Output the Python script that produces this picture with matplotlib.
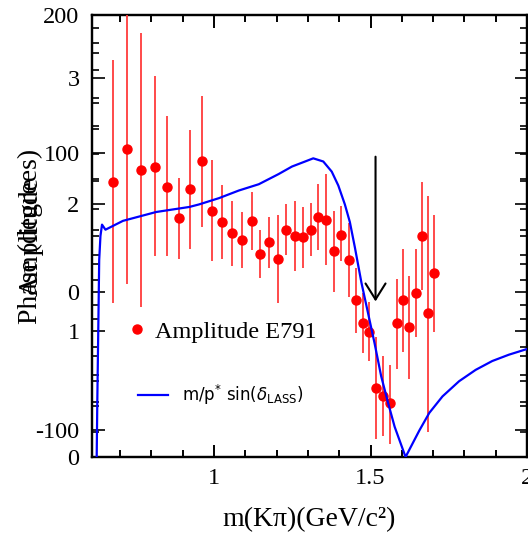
import matplotlib.pyplot as plt
from matplotlib.lines import Line2D
from matplotlib.ticker import MultipleLocator
import numpy as np

plt.rcParams['font.family'] = ['Liberation Serif', 'DejaVu Serif']
plt.rcParams['mathtext.fontset'] = 'dejavusans'
plt.rcParams['axes.unicode_minus'] = False

# --- Dados E791 (amplitude) ---
massa_e791 = [0.677, 0.723, 0.768, 0.810, 0.851, 0.888, 0.924, 0.961, 0.994, 1.026,
              1.058, 1.089, 1.120, 1.147, 1.177, 1.204, 1.231, 1.258, 1.284, 1.309,
              1.333, 1.359, 1.382, 1.405, 1.430, 1.453, 1.475, 1.495, 1.518, 1.540,
              1.562, 1.583, 1.604, 1.624, 1.644, 1.664, 1.684, 1.703]
amp_e791 = [2.18, 2.44, 2.27, 2.30, 2.14, 1.89, 2.12, 2.34, 1.95, 1.86,
            1.77, 1.72, 1.87, 1.61, 1.70, 1.57, 1.80, 1.75, 1.74, 1.80,
            1.90, 1.88, 1.63, 1.76, 1.56, 1.24, 1.06, 0.99, 0.55, 0.48,
            0.43, 1.06, 1.24, 1.03, 1.30, 1.75, 1.14, 1.46]
amp_alto = [3.14, 3.60, 3.36, 3.02, 2.70, 2.21, 2.59, 2.86, 2.35, 2.15,
            2.03, 1.94, 2.10, 1.80, 1.90, 1.92, 2.00, 2.03, 1.98, 2.01,
            2.16, 2.24, 1.95, 1.99, 1.85, 1.50, 1.30, 1.23, 0.95, 0.80,
            0.73, 1.41, 1.65, 1.43, 1.65, 2.18, 2.07, 1.92]
amp_baixo = [1.22, 1.37, 1.19, 1.59, 1.59, 1.57, 1.65, 1.82, 1.55, 1.57,
             1.51, 1.50, 1.64, 1.42, 1.50, 1.22, 1.60, 1.47, 1.50, 1.59,
             1.64, 1.52, 1.31, 1.55, 1.27, 0.98, 0.82, 0.76, 0.14, 0.17,
             0.10, 0.70, 0.83, 0.62, 0.95, 1.32, 0.20, 0.99]

# --- Curva LASS: m/p* sin(delta) ---
massa_lass = [0.625, 0.627, 0.630, 0.633, 0.637, 0.642, 0.653, 0.709, 0.815, 0.921,
              0.952, 1.016, 1.079, 1.143, 1.206, 1.249, 1.291, 1.317, 1.349, 1.376,
              1.397, 1.418, 1.434, 1.450, 1.471, 1.492, 1.513, 1.534, 1.556, 1.577,
              1.612, 1.635, 1.656, 1.688, 1.730, 1.783, 1.836, 1.889, 1.942, 2.000]
amp_lass = [0.00, 0.45, 1.00, 1.56, 1.75, 1.84, 1.80, 1.87, 1.94, 1.98,
            2.00, 2.05, 2.11, 2.16, 2.24, 2.30, 2.34, 2.365, 2.34, 2.26,
            2.15, 2.00, 1.86, 1.66, 1.38, 1.14, 0.90, 0.64, 0.43, 0.24,
            0.00, 0.11, 0.21, 0.35, 0.48, 0.60, 0.69, 0.76, 0.81, 0.855]

# Seta indicando a massa
seta_massa = 1.516
seta_amp = [2.40, 1.21]

fig = plt.figure(figsize=(5.28, 5.37), dpi=100)
caixa = [92 / 528, 80 / 537, 435 / 528, 442 / 537]
ax_fase = fig.add_axes(caixa)
ax_amp = fig.add_axes(caixa)
ax_amp.patch.set_visible(False)

# Eixo de fase (graus)
ax_fase.set_xlim(0.61, 2.0)
ax_fase.set_ylim(-119.5, 200)
ax_fase.yaxis.set_major_locator(MultipleLocator(100))
ax_fase.yaxis.set_minor_locator(MultipleLocator(20))
ax_fase.set_ylabel('Phase (degrees)', fontsize=20)

# Eixo de amplitude
ax_amp.set_xlim(0.61, 2.0)
ax_amp.set_ylim(0, 3.5)
ax_amp.yaxis.set_major_locator(MultipleLocator(1))
ax_amp.yaxis.set_minor_locator(MultipleLocator(0.2))
ax_amp.set_ylabel('Amplitude', fontsize=20)

for ax in (ax_fase, ax_amp):
    ax.xaxis.set_major_locator(MultipleLocator(0.5))
    ax.xaxis.set_minor_locator(MultipleLocator(0.1))
    ax.tick_params(which='both', direction='in', top=True, right=True,
                   labelsize=17.5, width=1.2)
    ax.tick_params(axis='y', which='both', pad=9)
    ax.tick_params(axis='x', which='both', pad=8)
    ax.tick_params(which='major', length=9)
    ax.tick_params(which='minor', length=5)
    for lado in ax.spines.values():
        lado.set_linewidth(1.6)
    # os dois rótulos ficam sobrepostos, como no original
    ax.yaxis.set_label_coords(-0.112, 0.5)

ax_fase.xaxis.set_tick_params(labelbottom=False)
ax_amp.set_xticks([1.0, 1.5, 2.0], ['1', '1.5', '2'])
ax_amp.set_xlabel('m(Kπ)(GeV/c²)', fontsize=20, labelpad=13)

# Pontos E791
amp_e791 = np.array(amp_e791)
erro = [amp_e791 - np.array(amp_baixo), np.array(amp_alto) - amp_e791]
ax_amp.errorbar(massa_e791, amp_e791, yerr=erro, fmt='o', color='#ff0000',
                ecolor='#ff3b3b', elinewidth=1.3, markersize=6.5, capsize=0, zorder=3)

# Curva LASS
ax_amp.plot(massa_lass, amp_lass, color='#0000ff', linewidth=1.6, zorder=4)

# Seta
ax_amp.annotate('', xy=(seta_massa, seta_amp[1]), xytext=(seta_massa, seta_amp[0]),
                arrowprops=dict(arrowstyle='->,head_length=1.15,head_width=0.72',
                                color='black', lw=1.5))

# Legendas
leg1 = ax_amp.legend([Line2D([], [], marker='o', color='#ff0000', linestyle='none', markersize=6.5)],
                     ['Amplitude E791'], loc='center left', bbox_to_anchor=(0.0828, 0.283),
                     frameon=False, fontsize=17.5, handlelength=0.75, handletextpad=0.38,
                     borderpad=0, borderaxespad=0, numpoints=1)
ax_amp.add_artist(leg1)
leg2 = ax_amp.legend([Line2D([], [], color='#0000ff', linewidth=1.6)],
                     [r'm/p$^{*}$ sin($\delta_{\rm LASS}$)'], loc='center left',
                     bbox_to_anchor=(0.106, 0.140), frameon=False,
                     prop={'family': 'DejaVu Sans', 'size': 12},
                     handlelength=1.8, handletextpad=0.85, borderpad=0, borderaxespad=0)

fig.savefig('out.png', dpi=100)
